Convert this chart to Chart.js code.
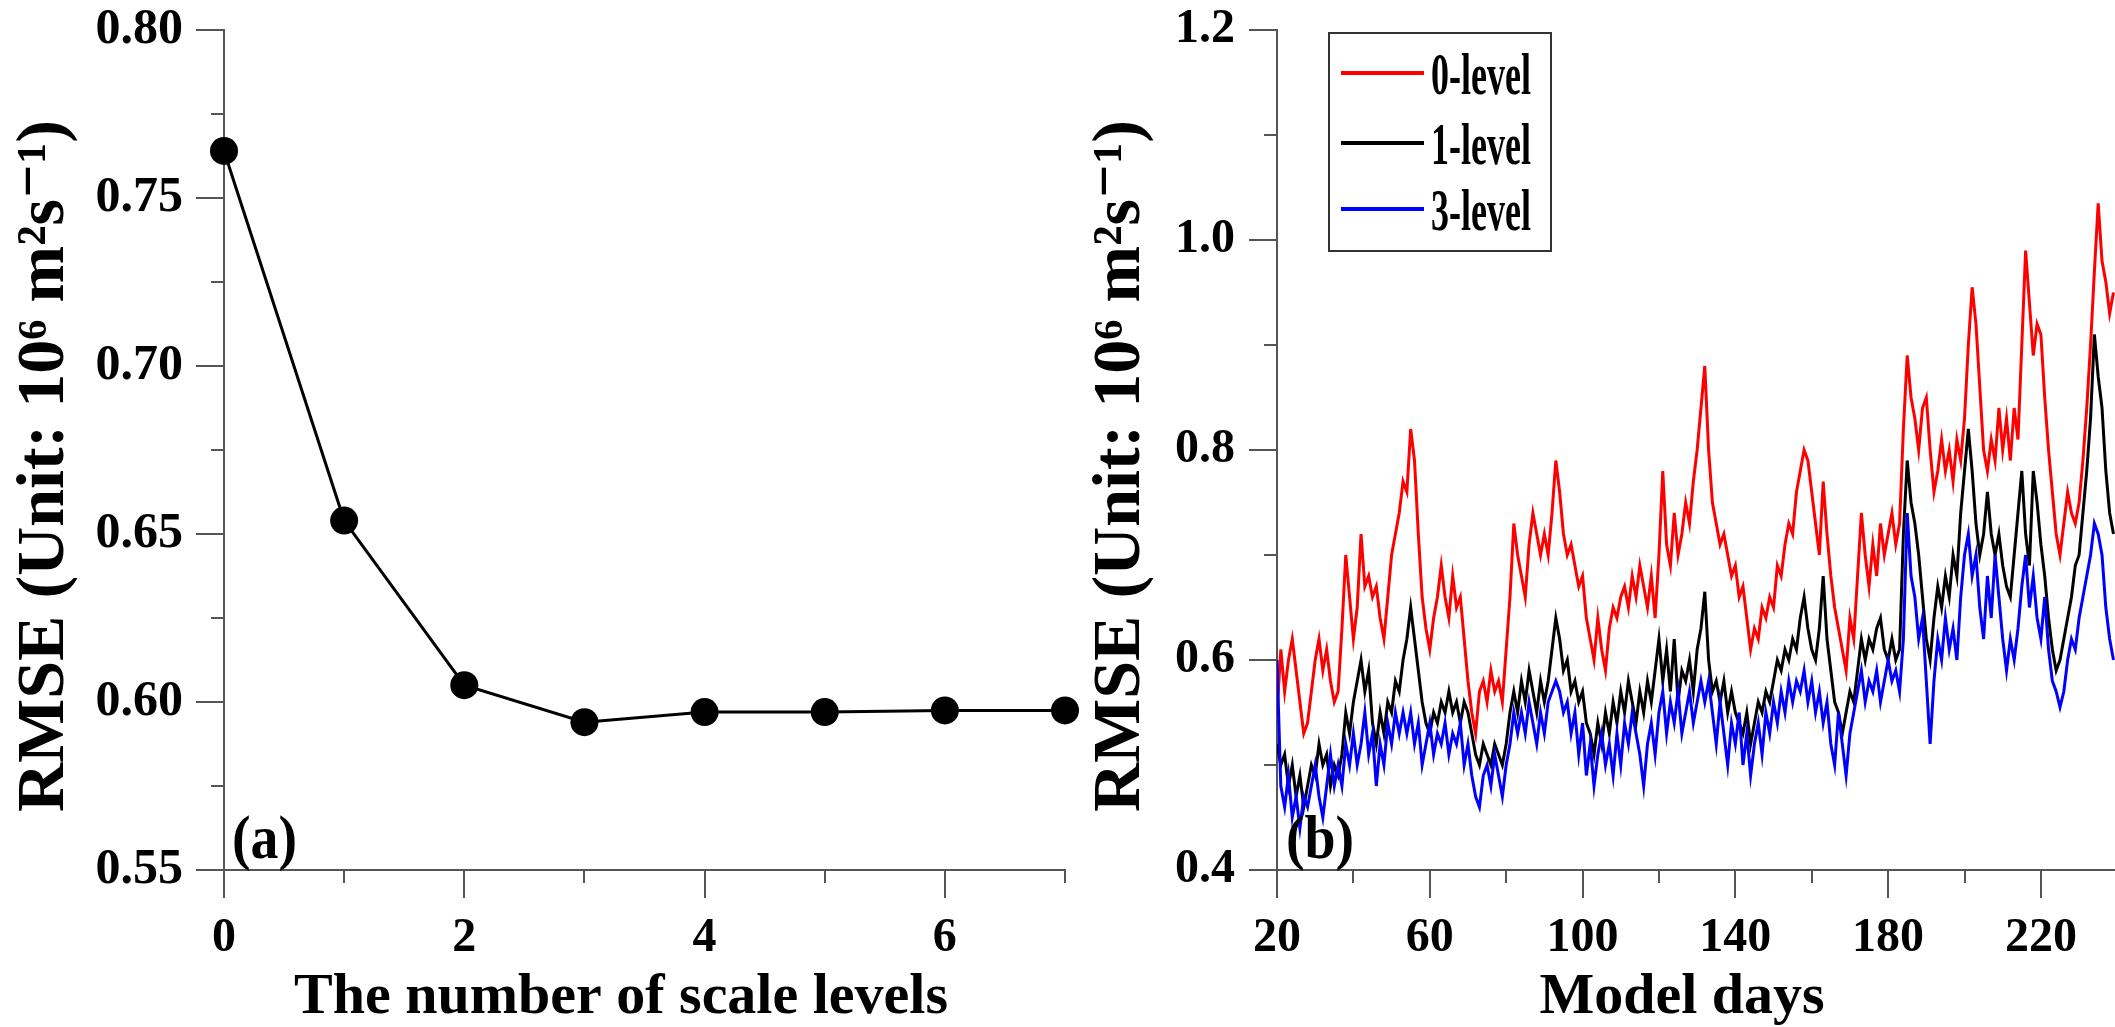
<!DOCTYPE html>
<html><head><meta charset="utf-8">
<script src="https://cdn.jsdelivr.net/npm/chart.js@4/dist/chart.umd.min.js"></script>
<style>
html,body{margin:0;padding:0;background:#fff;overflow:hidden;width:2115px;height:1027px}
.wrap{position:absolute;top:0}
</style></head><body>
<div class="wrap" style="left:0;width:1100px;height:1027px"><canvas id="ca" width="1100" height="1027"></canvas></div>
<div class="wrap" style="left:1060px;width:1055px;height:1027px"><canvas id="cb" width="1055" height="1027"></canvas></div>
<script>
// ---------- Panel (a) data ----------
const levels = [0, 1, 2, 3, 4, 5, 6, 7];
const rmseByLevel = [0.764, 0.654, 0.605, 0.594, 0.597, 0.597, 0.5975, 0.5975];
const yTicksA = [0.55, 0.60, 0.65, 0.70, 0.75, 0.80];
const yMinorA = [0.575, 0.625, 0.675, 0.725, 0.775];
const xTicksA = [0, 2, 4, 6];
const xMinorA = [1, 3, 5, 7];
const xTitleA = 'The number of scale levels';

// ---------- Panel (b) data (one value per model day, starting at day 20) ----------
const startDay = 20;
const rmse0 = [
0.55,0.61,0.57,0.60,0.62,0.59,0.56,0.53,0.54,0.57,
0.60,0.62,0.59,0.61,0.58,0.56,0.57,0.63,0.70,0.66,
0.62,0.65,0.72,0.67,0.68,0.66,0.67,0.64,0.62,0.66,
0.70,0.72,0.74,0.77,0.76,0.82,0.79,0.72,0.66,0.63,
0.61,0.64,0.66,0.69,0.66,0.64,0.68,0.65,0.66,0.62,
0.58,0.55,0.53,0.57,0.58,0.56,0.59,0.57,0.58,0.56,
0.61,0.66,0.73,0.70,0.68,0.66,0.71,0.74,0.72,0.70,
0.72,0.70,0.74,0.79,0.76,0.72,0.70,0.71,0.69,0.67,
0.68,0.64,0.62,0.60,0.64,0.61,0.59,0.63,0.65,0.64,
0.66,0.67,0.65,0.68,0.66,0.69,0.67,0.65,0.68,0.64,
0.70,0.78,0.71,0.69,0.74,0.70,0.72,0.75,0.73,0.77,
0.80,0.84,0.88,0.80,0.75,0.73,0.71,0.72,0.70,0.68,
0.69,0.66,0.67,0.64,0.61,0.63,0.62,0.65,0.64,0.66,
0.65,0.69,0.68,0.71,0.73,0.72,0.76,0.78,0.80,0.79,
0.76,0.73,0.70,0.77,0.72,0.68,0.65,0.63,0.61,0.59,
0.64,0.62,0.68,0.74,0.70,0.67,0.71,0.68,0.73,0.70,
0.72,0.74,0.71,0.73,0.82,0.89,0.85,0.83,0.80,0.84,
0.85,0.80,0.76,0.78,0.81,0.78,0.80,0.77,0.81,0.79,
0.83,0.90,0.955,0.92,0.86,0.80,0.78,0.81,0.79,0.84,
0.80,0.83,0.79,0.84,0.81,0.90,0.99,0.94,0.89,0.92,
0.91,0.85,0.80,0.76,0.72,0.70,0.73,0.76,0.74,0.73,
0.75,0.79,0.84,0.90,0.97,1.035,0.98,0.96,0.93,0.95
];
const rmse1 = [
0.52,0.50,0.51,0.48,0.50,0.47,0.49,0.46,0.48,0.50,
0.49,0.52,0.50,0.51,0.48,0.50,0.49,0.51,0.55,0.53,
0.56,0.58,0.60,0.57,0.59,0.54,0.52,0.55,0.53,0.56,
0.55,0.58,0.57,0.60,0.62,0.65,0.62,0.59,0.56,0.54,
0.53,0.55,0.54,0.56,0.55,0.57,0.55,0.56,0.54,0.56,
0.55,0.53,0.51,0.50,0.52,0.51,0.50,0.52,0.51,0.50,
0.52,0.55,0.57,0.55,0.58,0.56,0.59,0.57,0.55,0.58,
0.56,0.58,0.61,0.64,0.62,0.59,0.60,0.57,0.58,0.56,
0.57,0.54,0.53,0.51,0.54,0.52,0.55,0.53,0.56,0.54,
0.57,0.55,0.58,0.56,0.54,0.57,0.55,0.58,0.56,0.59,
0.62,0.58,0.61,0.57,0.62,0.56,0.59,0.58,0.60,0.57,
0.61,0.63,0.665,0.60,0.57,0.58,0.56,0.58,0.55,0.57,
0.55,0.54,0.53,0.55,0.52,0.54,0.56,0.55,0.57,0.56,
0.58,0.60,0.59,0.61,0.60,0.62,0.61,0.64,0.66,0.63,
0.61,0.60,0.63,0.68,0.62,0.59,0.56,0.55,0.53,0.55,
0.57,0.56,0.59,0.62,0.60,0.62,0.61,0.63,0.64,0.61,
0.60,0.62,0.60,0.61,0.72,0.79,0.75,0.73,0.70,0.66,
0.62,0.60,0.64,0.67,0.65,0.68,0.66,0.70,0.68,0.74,
0.78,0.82,0.78,0.73,0.70,0.72,0.76,0.72,0.70,0.72,
0.69,0.67,0.66,0.70,0.74,0.78,0.72,0.69,0.78,0.75,
0.71,0.68,0.64,0.61,0.59,0.60,0.62,0.64,0.66,0.69,
0.70,0.74,0.78,0.83,0.91,0.87,0.84,0.78,0.74,0.72
];
const rmse3 = [
0.60,0.48,0.46,0.49,0.45,0.47,0.44,0.47,0.46,0.48,
0.50,0.47,0.45,0.48,0.51,0.48,0.50,0.48,0.52,0.50,
0.53,0.50,0.52,0.55,0.51,0.53,0.48,0.52,0.50,0.54,
0.52,0.55,0.53,0.55,0.53,0.55,0.52,0.54,0.50,0.52,
0.54,0.51,0.53,0.52,0.54,0.51,0.53,0.52,0.54,0.50,
0.52,0.49,0.47,0.46,0.49,0.50,0.48,0.51,0.49,0.47,
0.50,0.52,0.55,0.53,0.55,0.53,0.56,0.54,0.52,0.55,
0.53,0.56,0.57,0.58,0.57,0.55,0.56,0.53,0.55,0.51,
0.54,0.49,0.52,0.48,0.51,0.53,0.50,0.52,0.49,0.53,
0.50,0.54,0.52,0.55,0.53,0.51,0.48,0.52,0.54,0.51,
0.55,0.57,0.53,0.56,0.54,0.57,0.53,0.55,0.57,0.54,
0.56,0.58,0.56,0.58,0.55,0.52,0.56,0.53,0.50,0.54,
0.52,0.55,0.50,0.53,0.49,0.52,0.54,0.51,0.55,0.53,
0.56,0.54,0.57,0.55,0.58,0.56,0.58,0.57,0.59,0.56,
0.58,0.55,0.57,0.54,0.56,0.52,0.50,0.55,0.52,0.49,
0.53,0.55,0.57,0.59,0.56,0.58,0.57,0.59,0.56,0.58,
0.60,0.58,0.59,0.57,0.62,0.74,0.68,0.66,0.62,0.64,
0.58,0.52,0.58,0.62,0.60,0.64,0.61,0.63,0.60,0.66,
0.70,0.72,0.68,0.70,0.65,0.62,0.68,0.64,0.70,0.66,
0.62,0.59,0.62,0.60,0.63,0.67,0.70,0.65,0.68,0.64,
0.62,0.66,0.61,0.58,0.57,0.555,0.57,0.60,0.62,0.61,
0.64,0.66,0.68,0.70,0.73,0.72,0.70,0.65,0.62,0.60
];
const seriesLabels = ['0-level', '1-level', '3-level'];
const seriesColors = ['#ff0000', '#000000', '#0000ff'];
const xTicksB = [20, 60, 100, 140, 180, 220];
const xMinorB = [40, 80, 120, 160, 200, 240];
const yTicksB = [0.4, 0.6, 0.8, 1.0, 1.2];
const yMinorB = [0.5, 0.7, 0.9, 1.1];
const xTitleB = 'Model days';
const yTitle = 'RMSE (Unit: 10\u2076 m\u00B2s\u207B\u00B9)';

// ---------- styling ----------
const FONT = "'Liberation Serif', 'Times New Roman', 'DejaVu Serif', serif";
const AXIS = '#555555';

function scaledText(ctx, txt, x, y, sx, align) {
  ctx.save();
  ctx.translate(x, y);
  ctx.scale(sx, 1);
  ctx.textAlign = align || 'left';
  ctx.fillText(txt, 0, 0);
  ctx.restore();
}

const extras = {
  id: 'extras',
  afterDraw(chart, args, o) {
    const ctx = chart.ctx, ca = chart.chartArea;
    const xs = chart.scales.x, ys = chart.scales.y;
    ctx.save();
    // minor ticks
    ctx.strokeStyle = AXIS; ctx.lineWidth = 2;
    (o.xMinor || []).forEach(v => {
      const px = Math.round(xs.getPixelForValue(v));
      if (px > ca.right + 1) return;
      ctx.beginPath(); ctx.moveTo(px, ca.bottom); ctx.lineTo(px, ca.bottom + o.minorLen); ctx.stroke();
    });
    (o.yMinor || []).forEach(v => {
      const py = Math.round(ys.getPixelForValue(v));
      ctx.beginPath(); ctx.moveTo(ca.left, py); ctx.lineTo(ca.left - o.minorLen, py); ctx.stroke();
    });
    ctx.fillStyle = '#000';
    ctx.textBaseline = 'alphabetic';
    // axis titles
    ctx.font = 'bold 58px ' + FONT;
    scaledText(ctx, o.xTitle, ca.left + o.xTitleDx, ca.bottom + 143, 1, 'center');
    ctx.save();
    ctx.font = 'bold 68px ' + FONT;
    ctx.translate(ca.left - o.yTitleDx, (ca.top + ca.bottom) / 2 + 16);
    ctx.rotate(-Math.PI / 2);
    ctx.textAlign = 'center'; ctx.textBaseline = 'middle';
    ctx.fillText(o.yTitle, 0, 0);
    ctx.restore();
    // panel tag
    ctx.font = 'bold 62px ' + FONT;
    scaledText(ctx, o.tag, ca.left + o.tagDx, ca.bottom - o.tagDy, 0.9, 'left');
    // legend box
    if (o.legend) {
      const L = o.legend;
      const bx = ca.left + L.dx, by = ca.top + L.dy;
      ctx.fillStyle = '#fff';
      ctx.fillRect(bx, by, L.w, L.h);
      ctx.strokeStyle = '#333'; ctx.lineWidth = 2;
      ctx.strokeRect(bx, by, L.w, L.h);
      chart.data.datasets.slice().sort((a, b) => a.legendIndex - b.legendIndex).forEach((ds, i) => {
        const ry = by + L.rows[i];
        ctx.strokeStyle = ds.borderColor; ctx.lineWidth = 4;
        ctx.beginPath(); ctx.moveTo(bx + L.lineX0, ry); ctx.lineTo(bx + L.lineX1, ry); ctx.stroke();
        ctx.fillStyle = '#000';
        ctx.font = 'bold 60px ' + FONT;
        scaledText(ctx, ds.label, bx + L.textX, ry + 21, 0.6, 'left');
      });
    }
    ctx.restore();
  }
};

function axisCommon(tickVals, fmt, pad, size, lh) {
  return {
    type: 'linear',
    afterBuildTicks: s => { s.ticks = tickVals.map(v => ({ value: v })); },
    grid: { drawOnChartArea: false, drawTicks: true, tickLength: 28, color: AXIS, lineWidth: 2 },
    border: { display: true, color: AXIS, width: 2 },
    ticks: { font: { family: FONT, size: size, weight: 'bold', lineHeight: lh }, color: '#000', padding: pad,
             maxRotation: 0, autoSkip: false, callback: fmt }
  };
}
function fixX(s) { s.height = 157; s.paddingLeft = 0; s.paddingRight = 0; }

// ---------- Chart (a) ----------
const xA = axisCommon(xTicksA, v => String(v), 12, 48, 1.2);
Object.assign(xA, { min: 0, max: 7, afterFit: fixX });
const yA = axisCommon(yTicksA, v => v.toFixed(2), 13, 50, 0.4);
Object.assign(yA, { min: 0.55, max: 0.80, afterFit: s => { s.width = 224; } });

new Chart(document.getElementById('ca'), {
  type: 'line',
  data: { datasets: [{
    label: 'RMSE', data: levels.map((x, i) => ({ x: x, y: rmseByLevel[i] })),
    borderColor: '#000', backgroundColor: '#000', borderWidth: 3,
    pointRadius: 14, pointHoverRadius: 14, pointBorderWidth: 0, clip: false, tension: 0
  }] },
  options: {
    responsive: false, animation: false, devicePixelRatio: 1,
    layout: { padding: { left: 0, right: 35, top: 30, bottom: 0 } },
    plugins: { legend: { display: false }, tooltip: { enabled: false },
      extras: { xMinor: xMinorA, yMinor: yMinorA, minorLen: 13, tag: '(a)', tagDx: 8, tagDy: 12,
                xTitle: xTitleA, xTitleDx: 397, yTitle: yTitle, yTitleDx: 179 } },
    scales: { x: xA, y: yA }
  },
  plugins: [extras]
});

// ---------- Chart (b) ----------
const series = [rmse0, rmse1, rmse3];
const xB = axisCommon(xTicksB, v => String(v), 12, 48, 1.2);
Object.assign(xB, { min: 20, max: 239.4, afterFit: fixX });
const yB = axisCommon(yTicksB, v => v.toFixed(1), 14, 48, 0.4);
Object.assign(yB, { min: 0.4, max: 1.2, afterFit: s => { s.width = 217; } });

new Chart(document.getElementById('cb'), {
  type: 'line',
  data: { datasets: series.map((arr, k) => ({
    label: seriesLabels[k], legendIndex: k,
    data: arr.map((v, i) => ({ x: startDay + i, y: v })),
    borderColor: seriesColors[k], borderWidth: 3, pointRadius: 0, tension: 0,
    order: 3 - k
  })) },
  options: {
    responsive: false, animation: false, devicePixelRatio: 1,
    layout: { padding: { left: 0, right: 0, top: 30, bottom: 0 } },
    plugins: { legend: { display: false }, tooltip: { enabled: false },
      extras: { xMinor: xMinorB, yMinor: yMinorB, minorLen: 13, tag: '(b)', tagDx: 9, tagDy: 12,
        xTitle: xTitleB, xTitleDx: 405, yTitle: yTitle, yTitleDx: 156,
        legend: { dx: 52, dy: 3, w: 222, h: 218, rows: [40, 110, 176], lineX0: 12, lineX1: 95, textX: 102 } } },
    scales: { x: xB, y: yB }
  },
  plugins: [extras]
});
</script>
</body></html>
